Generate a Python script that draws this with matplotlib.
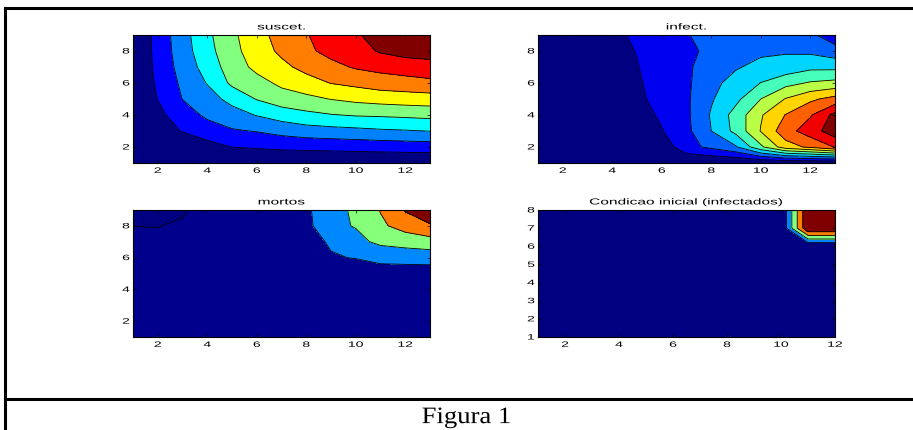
import matplotlib
matplotlib.use('Agg')
import matplotlib.pyplot as plt
import numpy as np
from matplotlib.lines import Line2D
from matplotlib.colors import LinearSegmentedColormap
from matplotlib.patheffects import AbstractPathEffect
from matplotlib.transforms import Affine2D

plt.rcParams['font.family'] = ['Liberation Sans', 'DejaVu Sans']

# grades (x = colunas, y = linhas)
x13 = np.arange(1, 14)
y9 = np.arange(1, 10)
x12 = np.arange(1, 13)
y8 = np.arange(1, 9)

# suscetiveis, linhas y=1..9, colunas x=1..13
suscet = [
    [0.00, 0.00, 0.00, 0.05, 0.05, 0.10, 0.10, 0.10, 0.10, 0.10, 0.10, 0.10, 0.10],
    [0.02, 0.20, 0.30, 0.65, 1.01, 1.10, 1.20, 1.25, 1.30, 1.35, 1.40, 1.45, 1.50],
    [0.05, 0.50, 1.05, 1.50, 1.90, 2.05, 2.33, 2.55, 2.65, 2.74, 2.86, 2.93, 3.02],
    [0.07, 0.75, 1.50, 2.20, 2.60, 3.05, 3.45, 3.75, 3.95, 4.08, 4.13, 4.20, 4.29],
    [0.08, 1.02, 2.02, 2.60, 3.30, 4.05, 4.55, 4.75, 5.03, 5.25, 5.40, 5.50, 5.56],
    [0.09, 1.15, 2.20, 3.05, 4.20, 4.65, 5.20, 5.60, 6.03, 6.25, 6.50, 6.60, 6.75],
    [0.10, 1.25, 2.40, 3.40, 4.50, 5.25, 5.75, 6.30, 6.72, 7.10, 7.30, 7.50, 7.64],
    [0.10, 1.30, 2.55, 3.65, 4.70, 5.50, 6.20, 6.80, 7.30, 7.60, 8.10, 8.35, 8.40],
    [0.10, 1.34, 2.62, 3.78, 4.80, 5.63, 6.40, 6.95, 7.43, 7.90, 8.35, 8.60, 8.90],
]
niveis_s = [0, 1, 2, 3, 4, 5, 6, 7, 8, 9]

infect = [
    [0.00, 0.00, 0.00, 0.00, 0.00, 0.00, 0.00, 0.00, 0.00, 0.00, 0.00, 0.00, 0.00],
    [0.05, 0.08, 0.12, 0.15, 0.20, 0.30, 1.70, 2.20, 2.90, 4.80, 6.55, 7.20, 8.05],
    [0.10, 0.15, 0.25, 0.35, 0.45, 0.95, 1.75, 3.00, 4.30, 6.05, 7.60, 8.50, 9.60],
    [0.12, 0.20, 0.30, 0.40, 0.60, 1.15, 1.81, 3.10, 4.40, 5.90, 7.03, 7.90, 9.30],
    [0.15, 0.25, 0.38, 0.45, 0.75, 1.40, 1.84, 2.90, 3.75, 5.00, 6.05, 6.80, 7.35],
    [0.18, 0.30, 0.45, 0.50, 0.85, 1.50, 1.82, 2.70, 3.40, 4.02, 4.67, 5.10, 5.30],
    [0.20, 0.35, 0.50, 0.50, 0.95, 1.60, 1.83, 2.50, 2.90, 3.30, 3.38, 3.75, 3.73],
    [0.22, 0.40, 0.55, 0.50, 1.05, 1.35, 1.60, 2.40, 2.70, 2.80, 2.90, 2.80, 2.40],
    [0.25, 0.42, 0.50, 0.60, 1.30, 1.60, 1.95, 2.30, 2.50, 2.50, 2.30, 2.20, 1.40],
]
niveis_i = [0, 1, 2, 3, 4, 5, 6, 7, 8, 9, 10]

mortos = [
    [0.02, 0.02, 0.02, 0.02, 0.03, 0.03, 0.04, 0.05, 0.06, 0.07, 0.08, 0.09, 0.10],
    [0.02, 0.02, 0.03, 0.03, 0.04, 0.05, 0.06, 0.07, 0.08, 0.10, 0.12, 0.14, 0.15],
    [0.02, 0.03, 0.03, 0.04, 0.05, 0.06, 0.08, 0.10, 0.12, 0.15, 0.18, 0.20, 0.22],
    [0.02, 0.03, 0.04, 0.05, 0.06, 0.08, 0.10, 0.14, 0.18, 0.22, 0.28, 0.30, 0.32],
    [0.02, 0.03, 0.04, 0.06, 0.08, 0.10, 0.15, 0.20, 0.25, 0.30, 0.45, 0.50, 0.52],
    [0.02, 0.03, 0.05, 0.07, 0.10, 0.15, 0.25, 0.40, 0.91, 1.05, 1.35, 1.37, 1.40],
    [0.02, 0.015, 0.04, 0.08, 0.12, 0.20, 0.35, 0.60, 1.13, 1.75, 2.20, 2.40, 2.60],
    [-0.0005, -0.002, 0.01, 0.08, 0.15, 0.25, 0.40, 0.70, 1.80, 2.05, 2.82, 3.40, 3.85],
    [-0.02, -0.02, -0.01, 0.045, 0.15, 0.30, 0.50, 0.76, 1.90, 2.05, 3.05, 4.08, 4.90],
]
niveis_m = [-0.05, 0, 1, 2, 3, 4, 5]

# condicao inicial, linhas y=1..8, colunas x=1..12
inicial = [
    [0, 0, 0, 0, 0, 0, 0, 0, 0, 0, 0, 0],
    [0, 0, 0, 0, 0, 0, 0, 0, 0, 0, 0, 0],
    [0, 0, 0, 0, 0, 0, 0, 0, 0, 0, 0, 0],
    [0, 0, 0, 0, 0, 0, 0, 0, 0, 0, 0, 0],
    [0, 0, 0, 0, 0, 0, 0, 0, 0, 0, 0, 0],
    [0, 0, 0, 0, 0, 0, 0, 0, 0, 0, 0, 0],
    [0, 0, 0, 0, 0, 0, 0, 0, 0, 0, 1, 1],
    [0, 0, 0, 0, 0, 0, 0, 0, 0, 0, 1, 1],
]
niveis_c = [0, 0.2, 0.4, 0.6, 0.8, 1.0]

# jet do matlab
jet_m = LinearSegmentedColormap.from_list('jet_m', [
    (0.0, (0, 0, 0.5)), (0.125, (0, 0, 1)), (0.375, (0, 1, 1)),
    (0.625, (1, 1, 0)), (0.875, (1, 0, 0)), (1.0, (0.5, 0, 0))])


class Esticar(AbstractPathEffect):
    # a figura original foi colada esticada na horizontal
    def __init__(self, sx):
        super().__init__()
        self.sx = sx

    def draw_path(self, renderer, gc, tpath, affine, rgbFace=None):
        bb = tpath.get_extents(affine)
        cx = bb.x0 + bb.width / 2
        t = affine + Affine2D().translate(-cx, 0).scale(self.sx, 1).translate(cx, 0)
        renderer.draw_path(gc, tpath, t, rgbFace)


def cores(niveis):
    # cor de cada faixa pelo nivel de baixo, como no matlab
    low = np.array(niveis[:-1], float)
    return jet_m((low - low[0]) / (low[-1] - low[0]))


def painel(ax, x, y, z, niveis, titulo):
    z = np.array(z, float)
    ax.contourf(x, y, z, levels=niveis, colors=cores(niveis))
    ax.contour(x, y, z, levels=niveis[1:-1], colors='k', linewidths=0.6)
    ax.set_xlim(x[0], x[-1])
    ax.set_ylim(y[0], y[-1])
    ax.set_title(titulo, fontsize=6.2, pad=4)
    ax.tick_params(direction='in', length=2.5, width=0.5, labelsize=5.6,
                   top=True, right=True, pad=3.5)
    for s in ax.spines.values():
        s.set_linewidth(0.8)


fig = plt.figure(figsize=(9.13, 4.31), dpi=100)
w, h = 0.3253, 0.297
ax1 = fig.add_axes([0.1457, 0.6195, w, h])
ax2 = fig.add_axes([0.5893, 0.6195, w, h])
ax3 = fig.add_axes([0.1457, 0.2158, w, 0.2947])
ax4 = fig.add_axes([0.5893, 0.2158, w, 0.2947])

painel(ax1, x13, y9, suscet, niveis_s, 'suscet.')
painel(ax2, x13, y9, infect, niveis_i, 'infect.')
painel(ax3, x13, y9, mortos, niveis_m, 'mortos')
painel(ax4, x12, y8, inicial, niveis_c, 'Condicao inicial (infectados)')

for ax in (ax1, ax2, ax3):
    ax.set_xticks([2, 4, 6, 8, 10, 12])
    ax.set_yticks([2, 4, 6, 8])
ax4.set_xticks([2, 4, 6, 8, 10, 12])
ax4.set_yticks([1, 2, 3, 4, 5, 6, 7, 8])

# moldura da tabela do documento
bw = 2.2
fig.add_artist(Line2D([0.006, 1.0], [0.979, 0.979], color='k', lw=bw))
fig.add_artist(Line2D([0.006, 0.006], [0.0, 0.979], color='k', lw=bw))
fig.add_artist(Line2D([0.006, 1.0], [0.071, 0.071], color='k', lw=bw))
legenda = fig.text(0.511, 0.016, 'Figura 1', ha='center', va='baseline',
                   fontsize=17, family='Liberation Serif')
legenda.set_path_effects([Esticar(1.13)])

fig.canvas.draw()
for ax in (ax1, ax2, ax3, ax4):
    for t in ax.get_xticklabels() + ax.get_yticklabels() + [ax.title]:
        t.set_path_effects([Esticar(1.8)])

fig.savefig('out.png', dpi=100)
